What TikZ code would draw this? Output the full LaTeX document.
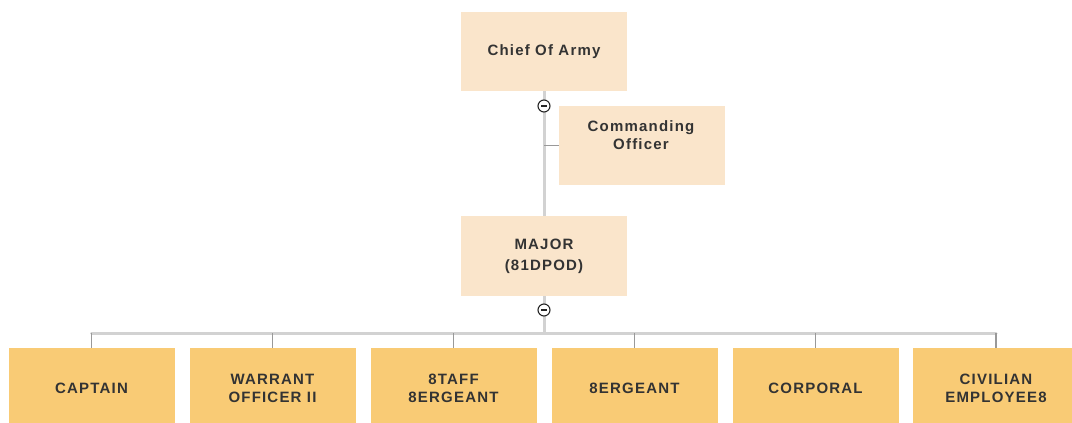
\documentclass[tikz,border=0pt]{standalone}
\usepackage{fontspec}
\setmainfont{Liberation Sans}
\newfontfamily\labfont[LetterSpace=8]{Liberation Sans}
\definecolor{toppeach}{HTML}{FAE5CB}
\definecolor{botorange}{HTML}{F9CB75}
\definecolor{txtgray}{HTML}{333333}
\definecolor{trunkgray}{HTML}{D2D2D2}
\definecolor{dropgray}{HTML}{999999}
\tikzset{
  topbox/.style={fill=toppeach, draw=none, minimum width=166pt, minimum height=79pt, inner sep=0pt,
    font=\labfont\bfseries\fontsize{15}{18}\selectfont, text=txtgray, align=center},
  botbox/.style={fill=botorange, draw=none, minimum width=166pt, minimum height=80pt, inner sep=0pt,
    font=\labfont\bfseries\fontsize{15}{18}\selectfont, text=txtgray, align=center},
  trunk/.style={draw=trunkgray, line width=3pt},
  drop/.style={draw=dropgray, line width=1.6pt},
  tick/.style={draw=dropgray, line width=1.2pt},
  toggle/.style={circle, draw=black!85, fill=white, line width=1.1pt, minimum size=12pt, inner sep=0pt,
    path picture={\draw[black!85, line width=1.1pt] ([xshift=-3pt]path picture bounding box.center) -- ([xshift=3pt]path picture bounding box.center);}}
}
\begin{document}
\begin{tikzpicture}[x=1pt,y=-1pt]
\useasboundingbox (0,0) rectangle (1072,423);
\clip (0,0) rectangle (1072,423);
\fill[white] (0,0) rectangle (1072,423);
% top nodes
\node[topbox] (chief) at (544,51.5) {Chief Of Army};
\node[topbox] (co) at (642,145.5) {};
\node[txtgray, font=\labfont\bfseries\fontsize{15}{18}\selectfont, align=center] (cotext) at (641,135.5) {Commanding\\Officer};
\node[topbox, minimum height=80pt, font=\labfont\bfseries\fontsize{15}{21}\selectfont] (major) at (544,256) {MAJOR\\(81DPOD)};
% bottom nodes
\node[botbox] (b1) at (91.5,388) {CAPTAIN};
\node[botbox] (b2) at (272.5,388) {WARRANT\\OFFICER II};
\node[botbox] (b3) at (453.5,388) {8TAFF\\8ERGEANT};
\node[botbox] (b4) at (634.5,388) {8ERGEANT};
\node[botbox] (b5) at (815.5,388) {CORPORAL};
\node[botbox] (b6) at (996,388) {CIVILIAN\\EMPLOYEE8};
\coordinate (bus) at (544,333);
% connectors
\draw[trunk] (chief.south) -- (major.north);
\draw[tick] (chief.south |- co.west) -- (co.west);
\draw[trunk] (major.south) -- (bus);
\draw[trunk, line cap=round] (b1.north |- bus) -- (b6.north |- bus);
\foreach \b in {b1,b2,b3,b4,b5,b6} {
  \draw[drop] (\b.north) -- (\b.north |- bus);
}
\node[toggle] (t1) at (544,106) {};
\node[toggle] (t2) at (544,310) {};
\end{tikzpicture}
\end{document}
